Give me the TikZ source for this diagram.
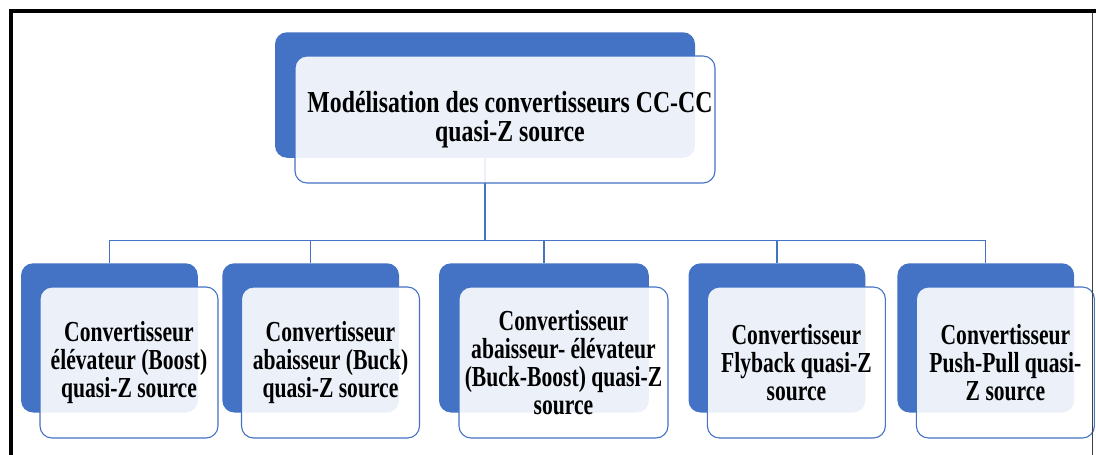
\documentclass[tikz,border=0pt]{standalone}
\usepackage{fontspec}
\setmainfont{Liberation Serif}[FakeStretch=0.745]
\newfontfamily\headfamily{Liberation Serif}[FakeStretch=0.78]
\definecolor{office}{HTML}{4472C4}
\newcommand\labelfont{\fontsize{29}{27.8}\selectfont\bfseries}
\newcommand\headfont{\headfamily\fontsize{30.5}{28.8}\selectfont\bfseries}
\pgfdeclarelayer{wires}
\pgfsetlayers{wires,main}
\tikzset{
  back/.style={rectangle, rounded corners=12pt, fill=office, draw=none, inner sep=0pt},
  front/.style={rectangle, rounded corners=12pt, draw=office, line width=1.1pt,
    fill=white, fill opacity=0.9, text opacity=1, align=center,
    font=\labelfont, inner sep=1pt},
  conn/.style={draw=office, line width=1.3pt},
  kid/.style={minimum width=176.7pt, minimum height=149.2pt},
  kidfront/.style={minimum width=178pt, minimum height=151pt},
}
\begin{document}
\begin{tikzpicture}[x=1pt,y=-1pt]
\useasboundingbox (0,0) rectangle (1096,455);

% parent block
\node[back, minimum width=420pt, minimum height=125.5pt] (pb) at (485,95) {};
\node[front, font=\headfont, minimum width=420pt, minimum height=127pt] (p) at (505,119.5)
  {\hspace{10pt}Modélisation des convertisseurs CC-CC\\\hspace{10pt}quasi-Z source};

% child blocks: dark tab behind, light card in front
\node[back, kid] (c1b) at (109.4,337.9) {};
\node[front, kidfront] (c1) at (129,362.5)
  {Convertisseur\\élévateur (Boost)\\quasi-Z source};

\node[back, kid] (c2b) at (310.7,337.9) {};
\node[front, kidfront] (c2) at (330.5,362.5)
  {Convertisseur\\abaisseur (Buck)\\quasi-Z source};

\node[back, kid, minimum width=209.8pt] (c3b) at (543.9,337.9) {};
\node[front, kidfront, minimum width=209pt] (c3) at (563.5,362.5)
  {Convertisseur\\abaisseur- élévateur\\(Buck-Boost) quasi-Z\\source};

\node[back, kid] (c4b) at (776.9,337.9) {};
\node[front, kidfront] (c4) at (796.4,362.5)
  {Convertisseur\\Flyback quasi-Z\\source};

\node[back, kid] (c5b) at (985.8,337.9) {};
\node[front, kidfront] (c5) at (1005.4,362.5)
  {Convertisseur\\Push-Pull quasi-\\Z source};

% tree connectors, kept underneath the cards
\coordinate (bus) at (485,240.5);
\begin{pgfonlayer}{wires}
  \draw[conn] (pb.south) -- (pb.south |- bus);
  \draw[conn] (c1b.north |- bus) -- (c5b.north |- bus);
  \foreach \k in {c1b,c2b,c3b,c4b,c5b}
    \draw[conn] (\k.north |- bus) -- (\k.north);
\end{pgfonlayer}

% page frame
\draw[line width=3.8pt, line join=miter] (11,455) -- (11,10.9) -- (1096,10.9);
\draw[line width=1.4pt, black!75] (1092.6,12.5) -- (1092.6,455);
\end{tikzpicture}
\end{document}
